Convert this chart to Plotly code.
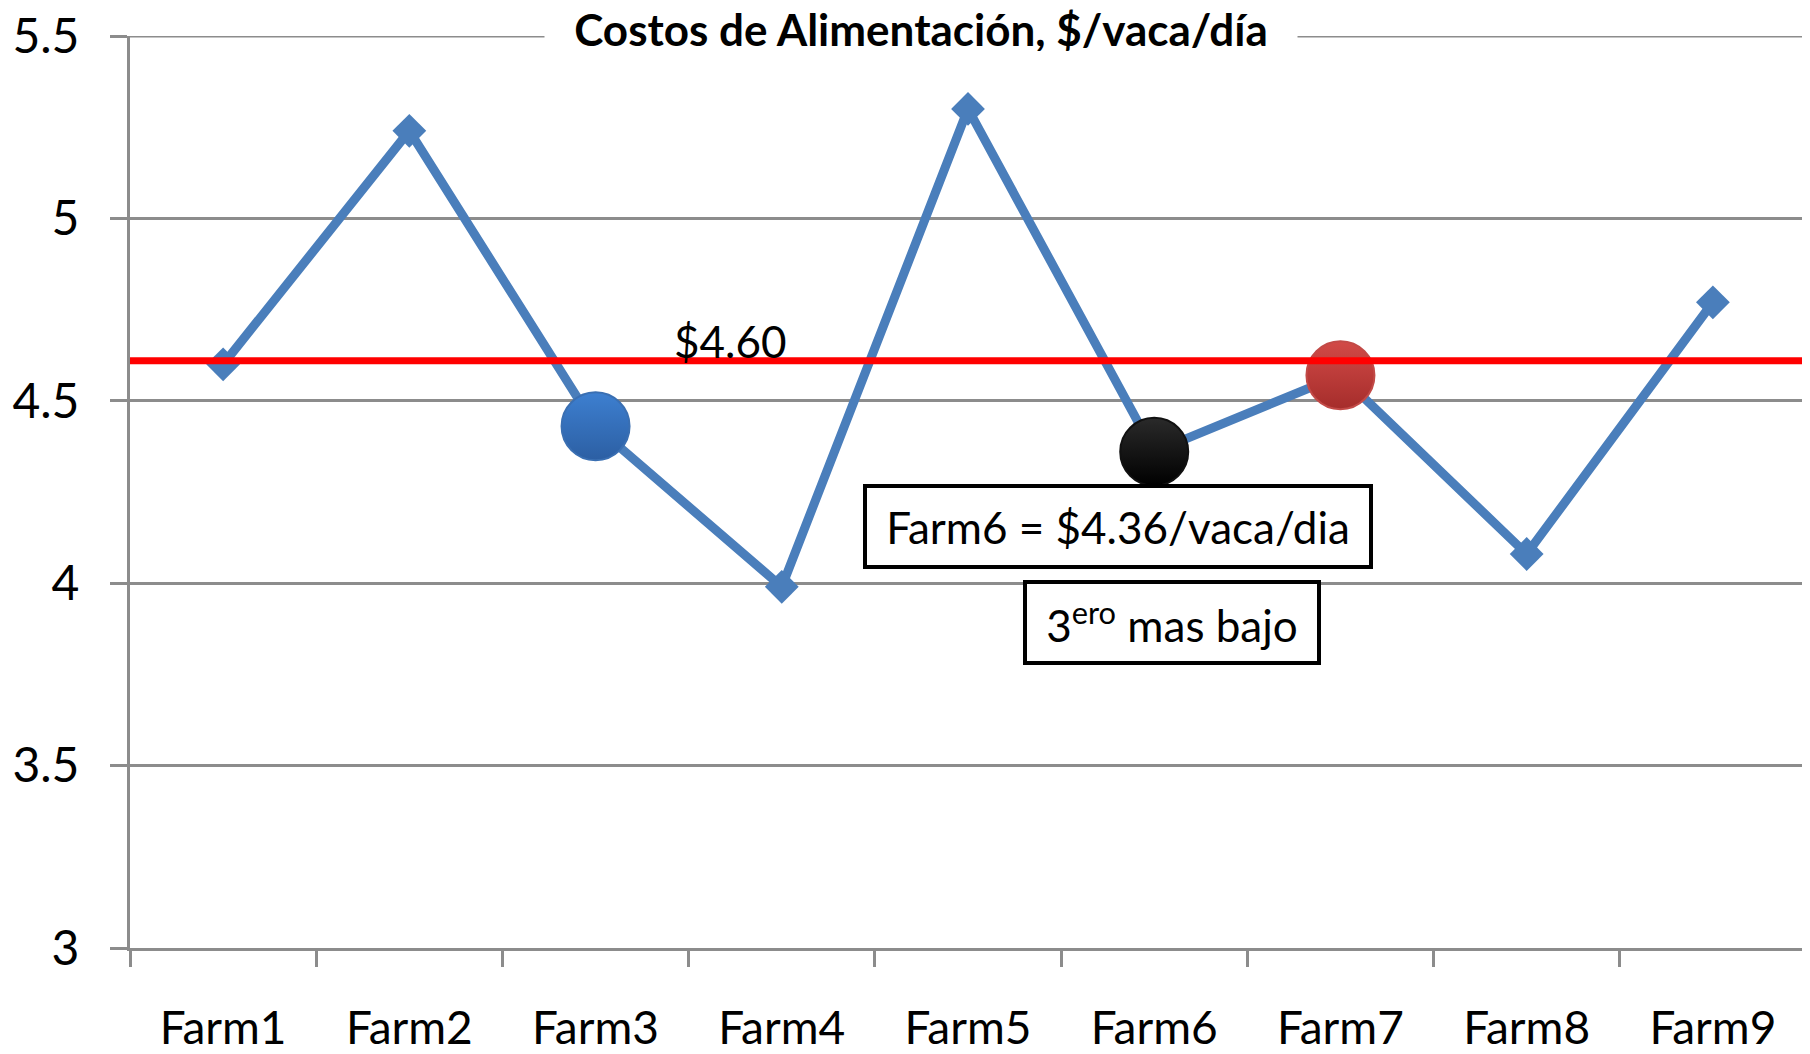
import plotly.graph_objects as go

farms = ["Farm1", "Farm2", "Farm3", "Farm4", "Farm5", "Farm6", "Farm7", "Farm8", "Farm9"]
costs = [4.60, 5.24, 4.43, 3.99, 5.30, 4.36, 4.57, 4.08, 4.77]
avg_cost = 4.61
highlight_farms = ["Farm3", "Farm6", "Farm7"]
highlight_colors = ["#3d7fd0", "#2a2a2a", "#d24a47"]
highlight_grad = ["#2c5fa3", "#000000", "#a52d2b"]
highlight_edges = ["#3a6fb2", "#111111", "#c24a47"]
y_ticks = [3, 3.5, 4, 4.5, 5, 5.5]
y_tick_text = ["3", "3.5", "4", "4.5", "5", "5.5"]

title_text = "Costos de Alimentación, $/vaca/día"
avg_label = "$4.60"
farm6_label = "Farm6 = $4.36/vaca/dia"
rank_label = "3<sup>ero</sup> mas bajo"

FONT = "Lato"
BLUE = "#4a7ebb"
GRID = "#8c8c8c"

fig = go.Figure()

# top gridline (plotly drops gridlines that sit on the plot edge)
fig.add_shape(type="line", xref="paper", x0=0, x1=1, yref="y", y0=y_ticks[-1], y1=y_ticks[-1],
              line=dict(color=GRID, width=3), layer="below")

# average line (red)
fig.add_shape(type="line", xref="paper", x0=0, x1=1, yref="y", y0=avg_cost, y1=avg_cost,
              line=dict(color="#ff0000", width=7), layer="above")

fig.add_trace(go.Scatter(
    x=farms, y=costs, mode="lines+markers",
    line=dict(color=BLUE, width=9),
    marker=dict(symbol="diamond", size=26, color=BLUE),
    showlegend=False, hoverinfo="skip", cliponaxis=False,
))

hl_y = [costs[farms.index(f)] for f in highlight_farms]
fig.add_trace(go.Scatter(
    x=highlight_farms, y=hl_y, mode="markers",
    marker=dict(symbol="circle", size=68, color=highlight_colors,
                gradient=dict(type="vertical", color=highlight_grad),
                line=dict(color=highlight_edges, width=2)),
    showlegend=False, hoverinfo="skip", cliponaxis=False,
))

fig.update_xaxes(
    type="category", categoryorder="array", categoryarray=farms,
    range=[-0.5, 8.5], tickson="boundaries", automargin=False,
    ticks="outside", ticklen=16, tickwidth=3, tickcolor=GRID,
    showline=True, linecolor=GRID, linewidth=3,
    showgrid=False, ticklabelstandoff=38, ticklabeloverflow="allow",
    tickfont=dict(family=FONT, size=46, color="#000000"),
)
fig.update_yaxes(
    range=[3, 5.5], tickvals=y_ticks, ticktext=y_tick_text, automargin=False,
    ticks="outside", ticklen=17, tickwidth=3, tickcolor=GRID,
    showline=True, linecolor=GRID, linewidth=3,
    showgrid=True, gridcolor=GRID, gridwidth=3, zeroline=False,
    ticklabelstandoff=21, ticklabeloverflow="allow",
    tickfont=dict(family=FONT, size=48, color="#000000"),
)

# title overlaying the top gridline
fig.add_annotation(xref="paper", yref="paper", x=0.472, y=1.0, xanchor="center", yanchor="middle",
                   text=f"<b>{title_text}</b>", showarrow=False, bgcolor="#ffffff",
                   width=752, height=44, borderpad=0,
                   font=dict(family=FONT, size=44, color="#000000"), yshift=7)

# average label
fig.add_annotation(x=2.72, y=avg_cost, xref="x", yref="y", text=avg_label, showarrow=False,
                   yanchor="bottom", yshift=-8, font=dict(family=FONT, size=44, color="#000000"))

# boxes
fig.add_annotation(x=4.805, y=4.155, xref="x", yref="y", text=farm6_label, showarrow=False,
                   width=502, height=77, bgcolor="#ffffff", bordercolor="#000000",
                   borderwidth=4, borderpad=0, font=dict(family=FONT, size=44, color="#000000"))
fig.add_annotation(x=5.095, y=3.892, xref="x", yref="y", text=rank_label, showarrow=False,
                   width=290, height=77, bgcolor="#ffffff", bordercolor="#000000",
                   borderwidth=4, borderpad=0, font=dict(family=FONT, size=44, color="#000000"))

# page body has an 8px default margin, so the figure is sized to fit the window after it
fig.update_layout(
    width=1802, height=1046,
    margin=dict(l=122, r=4, t=28, b=106),
    paper_bgcolor="#ffffff", plot_bgcolor="#ffffff",
    font=dict(family=FONT),
)

fig.write_html("out.html")
